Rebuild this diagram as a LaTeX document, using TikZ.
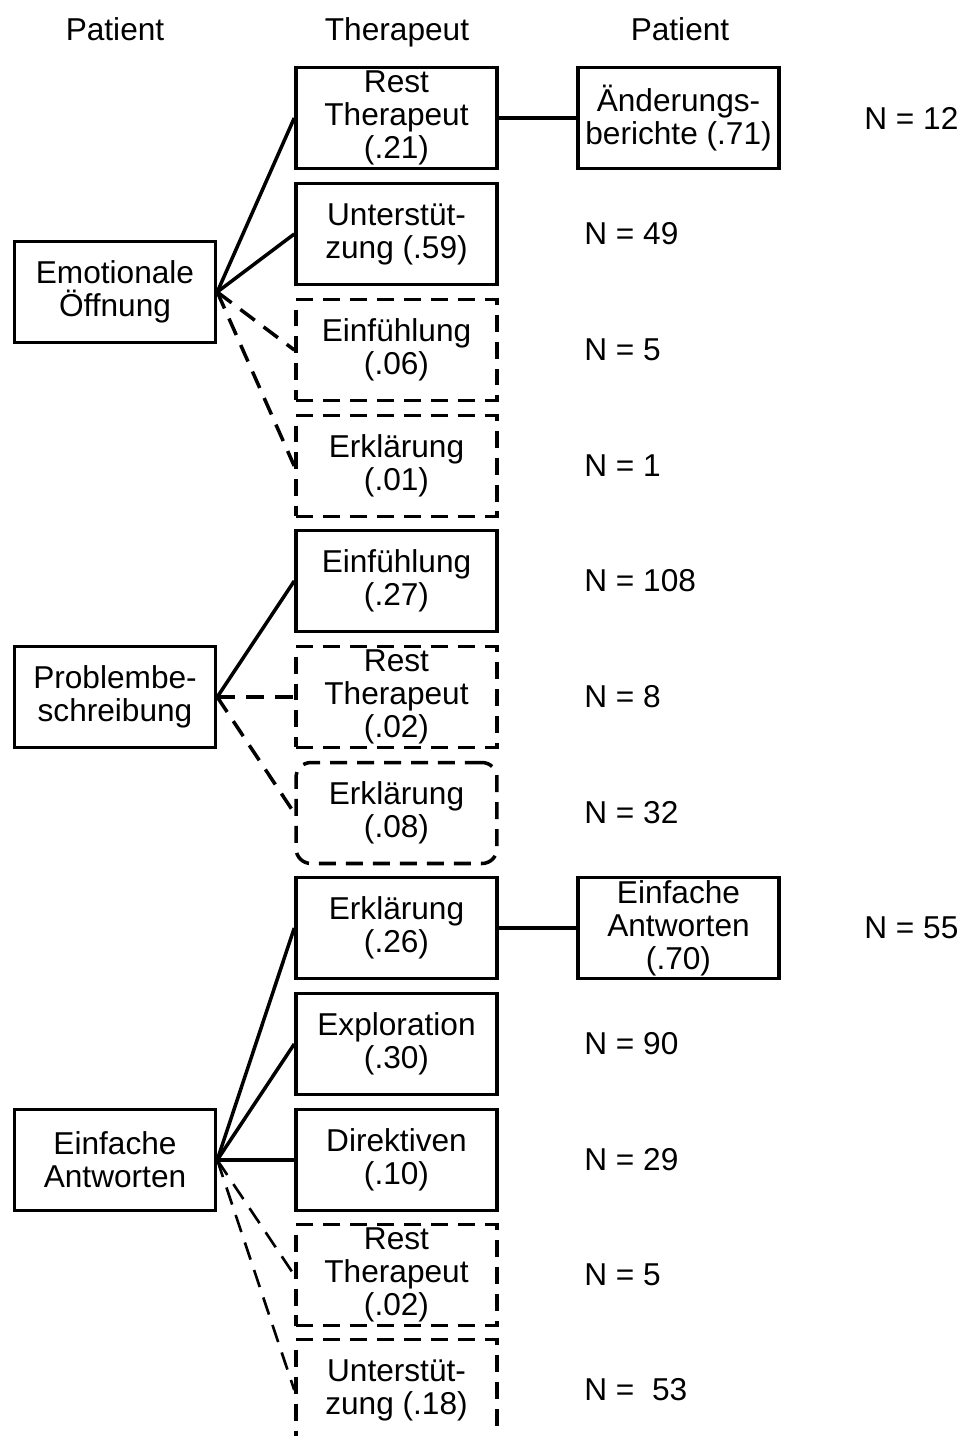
\documentclass[tikz,border=0pt]{standalone}
\usepackage{fontspec}
\setmainfont{Liberation Sans}

\begin{document}
\begin{tikzpicture}[x=0.02cm, y=-0.02cm, font=\fontsize{18}{18.8}\selectfont,
    box/.style={draw, line width=2pt, minimum width=4.02cm, minimum height=2.02cm, inner sep=0pt, align=center},
    dbox/.style={box, dash pattern=on 0.34cm off 0.2cm},
    link/.style={line width=2pt},
    dlink/.style={link, dash pattern=on 0.36cm off 0.22cm},
    count/.style={anchor=west, inner sep=0pt},
    header/.style={anchor=base}]

    \useasboundingbox (0,0) rectangle (963,1436);

    % Column headers
    \node[header] (hp1) at (115,41) {Patient};
    \node[header] (hth) at (397,41) {Therapeut};
    \node[header] (hp2) at (680,41) {Patient};

    % Patient (left)
    \node[box] (emo) at (115,292) {Emotionale\\Öffnung};
    \node[box] (prob) at (115,697) {Problembe-\\schreibung};
    \node[box] (einf) at (115,1160) {Einfache\\Antworten};

    % Therapeut
    \node[box] (t1) at (396.5,118) {Rest\\Therapeut\\(.21)};
    \node[box] (t2) at (396.5,234) {Unterstüt-\\zung (.59)};
    \node[dbox] (t3) at (396.5,350) {Einfühlung\\(.06)};
    \node[dbox] (t4) at (396.5,466) {Erklärung\\(.01)};
    \node[box] (t5) at (396.5,581) {Einfühlung\\(.27)};
    \node[dbox] (t6) at (396.5,697) {Rest\\Therapeut\\(.02)};
    \node[dbox, rounded corners=0.3cm] (t7) at (396.5,813) {Erklärung\\(.08)};
    \node[box] (t8) at (396.5,928) {Erklärung\\(.26)};
    \node[box] (t9) at (396.5,1044) {Exploration\\(.30)};
    \node[box] (t10) at (396.5,1160) {Direktiven\\(.10)};
    \node[dbox] (t11) at (396.5,1275) {Rest\\Therapeut\\(.02)};
    \node[dbox] (t12) at (396.5,1390) {Unterstüt-\\zung (.18)};

    % Patient (right)
    \node[box] (p1) at (678.5,118) {Änderungs-\\berichte (.71)};
    \node[box] (p2) at (678.5,928) {Einfache\\Antworten\\(.70)};

    % Counts
    \node[count] (n1) at (864,118) {N = 12};
    \node[count] (n2) at (584,234) {N = 49};
    \node[count] (n3) at (584,350) {N = 5};
    \node[count] (n4) at (584,466) {N = 1};
    \node[count] (n5) at (584,581) {N = 108};
    \node[count] (n6) at (584,697) {N = 8};
    \node[count] (n7) at (584,813) {N = 32};
    \node[count] (n8) at (864,928) {N = 55};
    \node[count] (n9) at (584,1044) {N = 90};
    \node[count] (n10) at (584,1160) {N = 29};
    \node[count] (n11) at (584,1275) {N = 5};
    \node[count] (n12) at (584,1390) {N = \ 53};

    % Connections
    \draw[link] (emo.east) -- (t1.west);
    \draw[link] (emo.east) -- (t2.west);
    \draw[dlink] (emo.east) -- (t3.west);
    \draw[dlink] (emo.east) -- (t4.west);
    \draw[link] (prob.east) -- (t5.west);
    \draw[dlink] (prob.east) -- (t6.west);
    \draw[dlink] (prob.east) -- (t7.west);
    \draw[link] (einf.east) -- (t8.west);
    \draw[link] (einf.east) -- (t9.west);
    \draw[link] (einf.east) -- (t10.west);
    \draw[dlink, line width=1.5pt] (einf.east) -- (t11.west);
    \draw[dlink, line width=1.5pt] (einf.east) -- (t12.west);
    \draw[link] (t1) -- (p1);
    \draw[link] (t8) -- (p2);
\end{tikzpicture}
\end{document}
